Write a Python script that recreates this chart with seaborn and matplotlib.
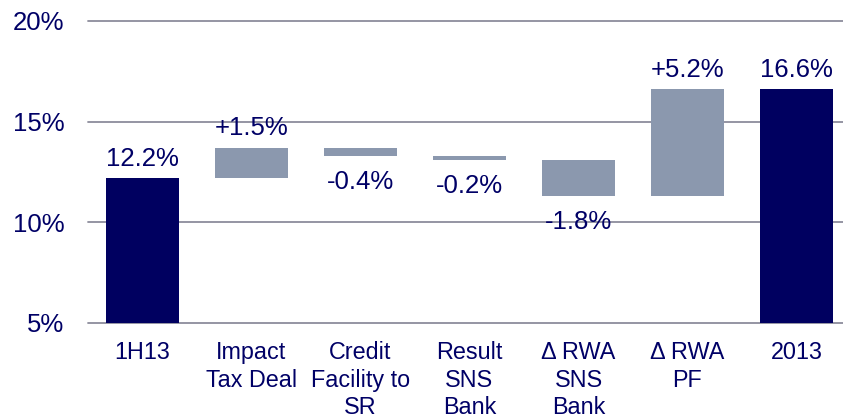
import matplotlib
matplotlib.use("Agg")
import matplotlib.pyplot as plt
import seaborn as sns
import pandas as pd

categories = ["1H13", "Impact\nTax Deal", "Credit\nFacility to\nSR", "Result\nSNS\nBank",
              "\u0394 RWA\nSNS\nBank", "\u0394 RWA\nPF", "2013"]
lows = [0.0, 12.2, 13.3, 13.1, 11.3, 11.3, 0.0]
highs = [12.2, 13.7, 13.7, 13.3, 13.1, 16.6, 16.6]
value_labels = ["12.2%", "+1.5%", "-0.4%", "-0.2%", "-1.8%", "+5.2%", "16.6%"]
label_above = [True, True, False, False, False, True, True]
is_total = [True, False, False, False, False, False, True]
y_ticks = [5, 10, 15, 20]
y_tick_labels = ["5%", "10%", "15%", "20%"]

NAVY = "#000060"
LIGHT = "#8b98ae"
GRID = "#8c8c9c"
TEXT = "#000066"

sns.set_theme(style="white")
plt.rcParams["font.family"] = ["Liberation Sans", "DejaVu Sans"]

df = pd.DataFrame({"cat": categories,
                   "height": [h - l for h, l in zip(highs, lows)]})

fig = plt.figure(figsize=(8.43, 4.18), dpi=100)
ax = fig.add_axes([88 / 843, 1 - 323 / 418, 1 - 88 / 843, (323 - 21) / 418])

sns.barplot(data=df, x="cat", y="height", bottom=lows, order=categories,
            color=LIGHT, width=0.67, errorbar=None, ax=ax, zorder=3,
            saturation=1, linewidth=0)

for p, tot in zip(ax.patches, is_total):
    p.set_facecolor(NAVY if tot else LIGHT)
    p.set_edgecolor("none")

ax.set_ylim(5, 20)
ax.set_xlim(-0.5, (843 - 142.5) / 109)
ax.set_yticks(y_ticks)
ax.set_yticklabels(y_tick_labels)
ax.yaxis.grid(True, color=GRID, linewidth=1.3, zorder=0)
ax.set_axisbelow(True)
for gl in ax.get_ygridlines():
    gl.set_clip_on(False)
for s in ax.spines.values():
    s.set_visible(False)
ax.set_xlabel("")
ax.set_ylabel("")
ax.tick_params(axis="y", length=0, pad=17, labelsize=18.5, labelcolor=TEXT)
ax.tick_params(axis="x", length=0, pad=13, labelsize=16.8, labelcolor=TEXT)
for t in ax.get_xticklabels():
    t.set_linespacing(1.25)

for i, (lab, above) in enumerate(zip(value_labels, label_above)):
    if above:
        ax.annotate(lab, xy=(i, highs[i]), xytext=(0, 9), textcoords="offset points",
                    ha="center", va="baseline", fontsize=18.5, color=TEXT, zorder=5)
    else:
        ax.annotate(lab, xy=(i, lows[i]), xytext=(0, -10), textcoords="offset points",
                    ha="center", va="top", fontsize=18.5, color=TEXT, zorder=5)

fig.savefig("out.png", dpi=100)
